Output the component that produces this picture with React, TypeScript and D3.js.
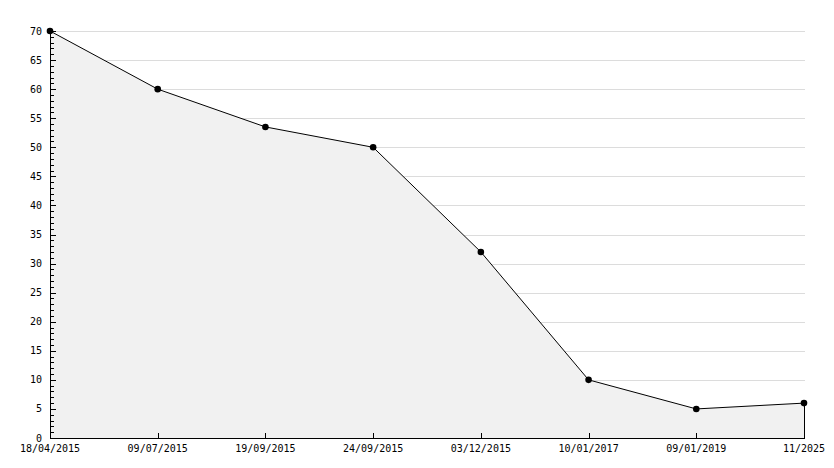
import React from "react";
import * as d3 from "d3";

const categories = ["18/04/2015", "09/07/2015", "19/09/2015", "24/09/2015", "03/12/2015", "10/01/2017", "09/01/2019", "11/2025"];
const values = [70, 60, 53.5, 50, 32, 10, 5, 6];
const majorTicks = [0, 5, 10, 15, 20, 25, 30, 35, 40, 45, 50, 55, 60, 65, 70];

const W = 834;
const H = 468;
const left = 50;
const right = 805;
const top = 31;
const bottom = 438;
const FONT = "'DejaVu Sans Mono', monospace";

export default function App() {
  const x = d3.scalePoint<string>().domain(categories).range([left, right - 1]);
  const y = d3.scaleLinear().domain([0, 70]).range([bottom, top]);
  const ry = (v: number) => Math.round(y(v)) + 0.5;
  const rx = (c: string) => Math.round(x(c) as number) + 0.5;

  const pts: [number, number][] = categories.map((c, i) => [x(c) as number, y(values[i])]);
  const area = d3
    .area<[number, number]>()
    .x((d) => d[0])
    .y0(bottom)
    .y1((d) => d[1])(pts);
  const line = d3
    .line<[number, number]>()
    .x((d) => d[0])
    .y((d) => d[1])(pts);

  const minorTicks = d3.range(0, 71).filter((v) => v % 5 !== 0);
  const last = pts[pts.length - 1];

  return (
    <svg width={W} height={H} style={{ position: "absolute", left: 0, top: 0, background: "#fff" }}>
      {/* grid */}
      {majorTicks
        .filter((v) => v > 0)
        .map((v) => (
          <line key={"g" + v} x1={left} x2={right} y1={ry(v)} y2={ry(v)} stroke="#dcdcdc" strokeWidth={1} />
        ))}
      {/* area */}
      <path d={area || ""} fill="#f1f1f1" stroke="none" />
      <path d={line || ""} fill="none" stroke="#000" strokeWidth={1} />
      <line x1={Math.round(last[0]) + 0.5} x2={Math.round(last[0]) + 0.5} y1={last[1]} y2={bottom} stroke="#000" strokeWidth={1} />
      {/* axes */}
      <line x1={left + 0.5} x2={left + 0.5} y1={top} y2={bottom + 0.5} stroke="#000" strokeWidth={1} />
      <line x1={left} x2={right} y1={bottom + 0.5} y2={bottom + 0.5} stroke="#000" strokeWidth={1} />
      {majorTicks.map((v) => (
        <g key={"t" + v}>
          <line x1={left} x2={left + 6} y1={ry(v)} y2={ry(v)} stroke="#000" />
          <text x={42} y={y(v)} dy="0.35em" textAnchor="end" fontFamily={FONT} fontSize={10} fill="#000">
            {v}
          </text>
        </g>
      ))}
      {minorTicks.map((v) => (
        <line key={"m" + v} x1={left} x2={left + 4} y1={ry(v)} y2={ry(v)} stroke="#000" />
      ))}
      {categories.map((c) => (
        <g key={"x" + c}>
          <line x1={rx(c)} x2={rx(c)} y1={bottom - 5} y2={bottom} stroke="#000" />
          <text x={x(c) as number} y={452} textAnchor="middle" fontFamily={FONT} fontSize={10} fill="#000">
            {c}
          </text>
        </g>
      ))}
      {/* markers */}
      {pts.map((p, i) => (
        <circle key={"p" + i} cx={p[0]} cy={p[1]} r={3.3} fill="#000" />
      ))}
    </svg>
  );
}
